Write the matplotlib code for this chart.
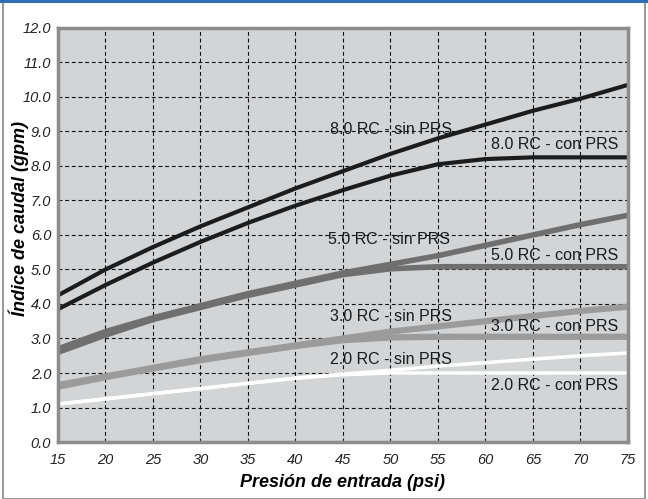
import matplotlib.pyplot as plt
from matplotlib.patches import Rectangle

psi = [15, 20, 25, 30, 35, 40, 45, 50, 55, 60, 65, 70, 75]

rc8_sin = [4.25, 5.0, 5.65, 6.25, 6.8, 7.35, 7.85, 8.35, 8.8, 9.2, 9.6, 9.95, 10.35]
rc8_con = [3.85, 4.55, 5.2, 5.8, 6.35, 6.85, 7.3, 7.72, 8.05, 8.2, 8.25, 8.25, 8.25]
rc5_sin = [2.7, 3.2, 3.6, 3.95, 4.3, 4.6, 4.9, 5.15, 5.4, 5.7, 6.0, 6.3, 6.57]
rc5_con = [2.6, 3.1, 3.55, 3.9, 4.25, 4.55, 4.85, 5.02, 5.08, 5.08, 5.08, 5.08, 5.08]
rc3_sin = [1.65, 1.9, 2.15, 2.4, 2.6, 2.8, 3.0, 3.2, 3.35, 3.5, 3.65, 3.8, 3.92]
rc3_con = [1.6, 1.88, 2.13, 2.37, 2.58, 2.78, 2.95, 3.03, 3.05, 3.05, 3.05, 3.05, 3.05]
rc2_sin = [1.1, 1.25, 1.4, 1.55, 1.7, 1.85, 1.97, 2.08, 2.2, 2.3, 2.4, 2.5, 2.58]
rc2_con = [1.1, 1.25, 1.4, 1.55, 1.7, 1.85, 1.95, 2.0, 2.0, 2.0, 2.0, 2.0, 2.0]

plt.rcParams['font.family'] = ['Liberation Sans', 'DejaVu Sans']
plt.rcParams['font.style'] = 'italic'

fig = plt.figure(figsize=(6.48, 4.99), dpi=100)
fig.patches.append(Rectangle((0.004, 0.0), 0.992, 0.996, transform=fig.transFigure,
                             fill=False, edgecolor='#9a9a9a', linewidth=1.5))
fig.patches.append(Rectangle((0, 0.994), 1, 0.006, transform=fig.transFigure,
                             color='#2f6fb0', linewidth=0))

ax = fig.add_axes([0.0895, 0.1142, 0.8795, 0.8298])
ax.set_facecolor('#d3d4d6')

ax.plot(psi, rc2_sin, color='white', lw=2.5, solid_capstyle='butt')
ax.plot(psi, rc2_con, color='white', lw=2.5, solid_capstyle='butt')
ax.plot(psi, rc3_sin, color='#9b9b9b', lw=4.5, solid_capstyle='butt')
ax.plot(psi, rc3_con, color='#9b9b9b', lw=4.5, solid_capstyle='butt')
ax.plot(psi, rc5_sin, color='#6f6f6f', lw=4, solid_capstyle='butt')
ax.plot(psi, rc5_con, color='#6f6f6f', lw=4, solid_capstyle='butt')
ax.plot(psi, rc8_sin, color='#1c1c1c', lw=3, solid_capstyle='butt')
ax.plot(psi, rc8_con, color='#1c1c1c', lw=3, solid_capstyle='butt')

lab = dict(fontsize=11.5, fontstyle='normal', color='#1a1a1a')
ax.text(43.6, 9.07, '8.0 RC - sin PRS', ha='left', va='center', **lab)
ax.text(74, 8.63, '8.0 RC - con PRS', ha='right', va='center', **lab)
ax.text(43.4, 5.87, '5.0 RC - sin PRS', ha='left', va='center', **lab)
ax.text(74, 5.4, '5.0 RC - con PRS', ha='right', va='center', **lab)
ax.text(43.6, 3.63, '3.0 RC - sin PRS', ha='left', va='center', **lab)
ax.text(74, 3.34, '3.0 RC - con PRS', ha='right', va='center', **lab)
ax.text(43.6, 2.38, '2.0 RC - sin PRS', ha='left', va='center', **lab)
ax.text(74, 1.63, '2.0 RC - con PRS', ha='right', va='center', **lab)

ax.set_xlim(15, 75)
ax.set_ylim(0, 12)
ax.set_xticks(psi)
ax.set_yticks(range(13))
ax.set_yticklabels([f'{v:.1f}' for v in range(13)])
ax.grid(True, color='#111111', linestyle=(0, (3.5, 2.5)), linewidth=0.8)
ax.set_axisbelow(True)
ax.tick_params(length=0, labelsize=10.5, colors='#222222')
ax.tick_params(axis='x', pad=8)
ax.tick_params(axis='y', pad=5)

for s in ax.spines.values():
    s.set_color('#8c8c8c')
    s.set_linewidth(2.5)

ax.set_xlabel('Presión de entrada (psi)', fontsize=13, fontweight='bold', labelpad=5)
ax.set_ylabel('Índice de caudal (gpm)', fontsize=13, fontweight='bold')
ax.yaxis.set_label_coords(-0.051, 0.54)

fig.savefig('out.png', dpi=100)
